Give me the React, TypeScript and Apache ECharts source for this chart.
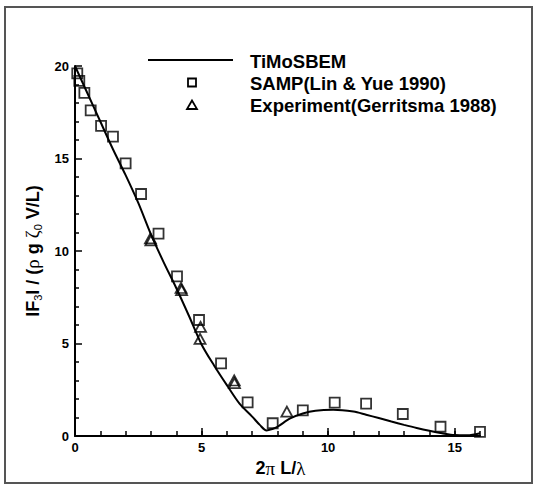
import React, { useEffect, useRef } from "react";
import * as echarts from "echarts";

// ---- data ----
const curveX = [0, 0.5, 1.0, 1.5, 2.0, 2.5, 3.0, 3.5, 4.0, 4.5, 5.0, 5.5, 6.0, 6.5, 7.0, 7.3, 7.57, 7.8, 8.0, 8.5, 9.0, 9.5, 10.2, 11.0, 11.5, 12.0, 12.5, 13.0, 13.5, 14.0, 14.5, 15.0, 15.5, 16.0];
const curveY = [20.0, 18.5, 17.0, 15.5, 14.1, 12.6, 10.9, 9.4, 8.0, 6.5, 4.95, 3.8, 2.75, 1.75, 1.05, 0.6, 0.3, 0.38, 0.5, 0.95, 1.22, 1.37, 1.42, 1.32, 1.15, 0.97, 0.78, 0.6, 0.43, 0.28, 0.15, 0.05, 0.04, 0.15];

const sampX = [0.09, 0.17, 0.37, 0.62, 1.03, 1.5, 2.0, 2.61, 3.3, 4.03, 4.9, 5.77, 6.82, 7.81, 9.0, 10.26, 11.5, 12.95, 14.44, 16.0];
const sampY = [19.6, 19.2, 18.55, 17.6, 16.76, 16.18, 14.74, 13.08, 10.94, 8.63, 6.27, 3.93, 1.82, 0.69, 1.39, 1.8, 1.75, 1.19, 0.5, 0.22];

const expX = [2.98, 3.0, 4.19, 4.21, 4.96, 4.94, 6.29, 6.3, 8.37];
const expY = [10.68, 10.58, 8.0, 7.88, 5.9, 5.25, 3.0, 2.86, 1.32];

const xMajorTicks = [0, 5, 10, 15];
const legendNames = ["TiMoSBEM", "SAMP(Lin & Yue 1990)", "Experiment(Gerritsma 1988)"];

const FONT = "'Liberation Sans', Arial, Helvetica, sans-serif";
const SERIF = "'Liberation Serif', 'DejaVu Serif', serif";

export default function App() {
  const ref = useRef<HTMLDivElement>(null);
  useEffect(() => {
    document.body.style.margin = "0";
    const chart = echarts.init(ref.current!, null, { renderer: "svg" });
    const zip = (xs: number[], ys: number[]) => xs.map((x, i) => [x, ys[i]]);
    const option: any = {
      animation: false,
      backgroundColor: "#fff",
      grid: { left: 75, top: 66, width: 405, height: 370 },
      xAxis: [
        {
          type: "value",
          min: 0,
          max: 16,
          interval: 5,
          position: "bottom",
          axisLine: { show: true, lineStyle: { color: "#000", width: 2 } },
          axisTick: { show: true, inside: true, length: 8, customValues: xMajorTicks, lineStyle: { color: "#000", width: 1.5 } },
          axisLabel: { show: true, customValues: xMajorTicks, color: "#000", fontSize: 13, fontWeight: "bold", fontFamily: FONT, margin: 5 },
          splitLine: { show: false },
          name: "{b|2}{g|π}{b| L/}{g|λ}",
          nameLocation: "middle",
          nameGap: 17,
          nameTextStyle: {
            color: "#000",
            padding: [0, 0, 0, 6],
            rich: {
              b: { fontSize: 18, fontWeight: "bold", fontFamily: FONT, color: "#000" },
              g: { fontSize: 19, fontWeight: "normal", fontFamily: SERIF, color: "#000" },
            },
          },
        },
        {
          type: "value",
          min: 0,
          max: 16,
          interval: 1,
          position: "bottom",
          offset: 0,
          axisLine: { show: false },
          axisTick: { show: true, inside: true, length: 5, lineStyle: { color: "#000", width: 1.5 } },
          axisLabel: { show: false },
          splitLine: { show: false },
        },
      ],
      yAxis: {
        type: "value",
        min: 0,
        max: 20,
        interval: 5,
        axisLine: { show: true, lineStyle: { color: "#000", width: 2 } },
        axisTick: { show: true, inside: true, length: 7, lineStyle: { color: "#000", width: 1.5 } },
        minorTick: { show: true, splitNumber: 5, length: 4, lineStyle: { color: "#000", width: 1.5 } },
        axisLabel: { color: "#000", fontSize: 13, fontWeight: "bold", fontFamily: FONT, margin: 6 },
        splitLine: { show: false },
        name: "{b|IF}{s|3}{b|I / (}{g|ρ}{b| g }{g|ζ}{s|0}{b| V/L)}",
        nameLocation: "middle",
        nameGap: 30,
        nameRotate: 90,
        nameTextStyle: {
          color: "#000",
          rich: {
            b: { fontSize: 18, fontWeight: "bold", fontFamily: FONT, color: "#000", verticalAlign: "middle", lineHeight: 22 },
            g: { fontSize: 19, fontWeight: "normal", fontFamily: SERIF, color: "#000", verticalAlign: "middle", lineHeight: 22 },
            s: { fontSize: 11, fontWeight: "normal", fontFamily: FONT, color: "#000", verticalAlign: "bottom", lineHeight: 11 },
          },
        },
      },
      series: [
        {
          name: legendNames[0],
          type: "line",
          xAxisIndex: 0,
          data: zip(curveX, curveY),
          smooth: 0.3,
          showSymbol: false,
          lineStyle: { color: "#000", width: 2 },
          z: 2,
        },
        {
          name: legendNames[1],
          type: "scatter",
          xAxisIndex: 0,
          data: zip(sampX, sampY),
          symbol: "rect",
          symbolSize: 10,
          itemStyle: { color: "rgba(255,255,255,0)", borderColor: "#000", borderWidth: 1.8 },
          z: 3,
        },
        {
          name: legendNames[2],
          type: "scatter",
          xAxisIndex: 0,
          data: zip(expX, expY),
          symbol: "triangle",
          symbolSize: [11, 10],
          itemStyle: { color: "rgba(255,255,255,0)", borderColor: "#000", borderWidth: 1.8 },
          z: 3,
        },
      ],
      graphic: [
        {
          type: "rect",
          shape: { x: 5, y: 7, width: 527, height: 476 },
          style: { fill: "none", stroke: "#555", lineWidth: 2 },
          silent: true,
        },
        { type: "line", shape: { x1: 148, y1: 60, x2: 233, y2: 60 }, style: { stroke: "#000", lineWidth: 2 } },
        { type: "rect", shape: { x: 188, y: 78.5, width: 8, height: 8 }, style: { fill: "none", stroke: "#000", lineWidth: 1.8 } },
        { type: "polygon", shape: { points: [[192, 100.5], [187, 109], [197, 109]] }, style: { fill: "none", stroke: "#000", lineWidth: 1.8 } },
        { type: "text", x: 250, y: 61, style: { text: legendNames[0], fill: "#000", font: `bold 18.5px ${FONT}`, verticalAlign: "middle" } },
        { type: "text", x: 250, y: 83, style: { text: legendNames[1], fill: "#000", font: `bold 18.5px ${FONT}`, verticalAlign: "middle" } },
        { type: "text", x: 250, y: 105, style: { text: legendNames[2], fill: "#000", font: `bold 18.5px ${FONT}`, verticalAlign: "middle" } },
      ],
    };
    chart.setOption(option);
    return () => chart.dispose();
  }, []);
  return <div ref={ref} style={{ width: 537, height: 486 }} />;
}
